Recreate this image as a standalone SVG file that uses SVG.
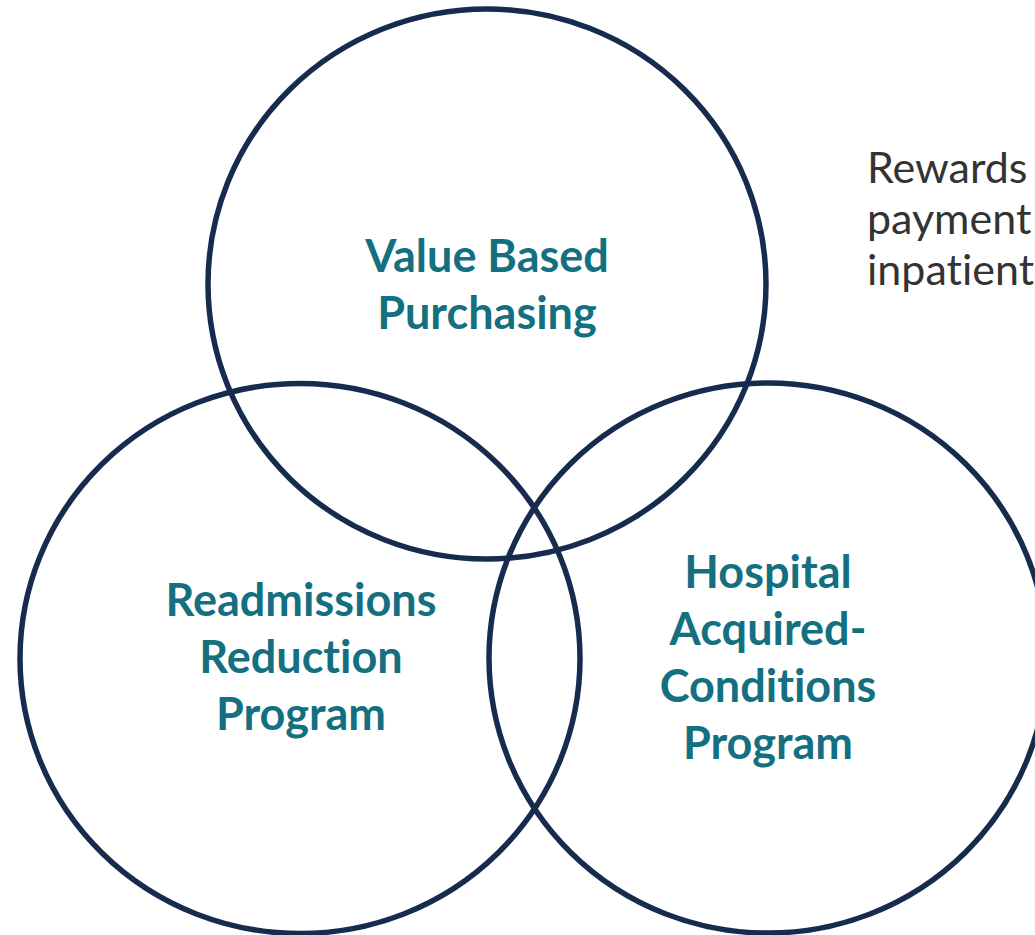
<svg xmlns="http://www.w3.org/2000/svg" width="1035" height="935" viewBox="0 0 1035 935">
<style>
.c{fill:none;stroke:#172b4f;stroke-width:5.5}
.t{font-family:Lato,"Open Sans","Liberation Sans",sans-serif;font-weight:bold;font-size:45px;fill:#146f81;text-anchor:middle;font-variant-ligatures:none}
.g{font-family:Lato,"Open Sans","Liberation Sans",sans-serif;font-size:43px;fill:#333333;font-variant-ligatures:none}
</style>
<rect width="1035" height="935" fill="#ffffff"/>
<g id="vbp">
<ellipse class="c" cx="487" cy="284" rx="279" ry="275"/>
<text class="t" x="487" y="272">Value Based</text>
<text class="t" x="487" y="329">Purchasing</text>
</g>
<g id="rrp">
<ellipse class="c" cx="300" cy="658.5" rx="280" ry="275"/>
<text class="t" x="301" y="616">Readmissions</text>
<text class="t" x="301" y="673">Reduction</text>
<text class="t" x="301" y="730">Program</text>
</g>
<g id="hac">
<ellipse class="c" cx="768" cy="658" rx="279" ry="275"/>
<text class="t" x="768" y="588">Hospital</text>
<text class="t" x="768" y="645">Acquired-</text>
<text class="t" x="768" y="702">Conditions</text>
<text class="t" x="768" y="759">Program</text>
</g>
<g id="desc">
<text class="g" x="867" y="183">Rewards</text>
<text class="g" x="867" y="234">payment</text>
<text class="g" x="867" y="285">inpatient</text>
</g>
<g id="connectors"/>
</svg>
